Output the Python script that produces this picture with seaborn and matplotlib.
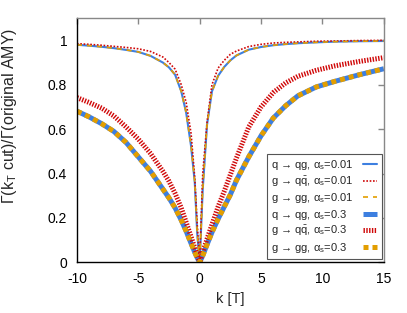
import matplotlib
matplotlib.use("Agg")
import matplotlib.pyplot as plt
import seaborn as sns
import pandas as pd

k = [-10, -9, -8, -7, -6, -5, -4, -3, -2.5, -2, -1.5, -1.1, -0.7, -0.4, -0.2, 0,
     0.25, 0.6, 1.0, 1.5, 2, 2.5, 3, 4, 5, 6, 7, 8, 9.5, 11, 13, 15]

# alpha_s = 0.01
qg_001 = [0.980, 0.976, 0.971, 0.965, 0.957, 0.948, 0.930, 0.900, 0.878, 0.845, 0.770,
          0.674, 0.523, 0.360, 0.130, 0.0,
          0.330, 0.620, 0.770, 0.840, 0.880, 0.910, 0.932, 0.958, 0.970, 0.978,
          0.983, 0.987, 0.991, 0.994, 0.996, 0.997]
qq_001 = [0.985, 0.982, 0.978, 0.973, 0.968, 0.962, 0.950, 0.925, 0.900, 0.870, 0.800,
          0.720, 0.580, 0.380, 0.170, 0.0,
          0.400, 0.630, 0.800, 0.875, 0.910, 0.937, 0.952, 0.972, 0.982, 0.988,
          0.991, 0.993, 0.996, 0.997, 0.999, 1.000]
gg_001 = [0.980, 0.976, 0.971, 0.965, 0.957, 0.948, 0.930, 0.900, 0.878, 0.845, 0.770,
          0.674, 0.523, 0.360, 0.130, 0.0,
          0.330, 0.620, 0.770, 0.840, 0.880, 0.910, 0.932, 0.958, 0.970, 0.978,
          0.983, 0.987, 0.991, 0.994, 0.996, 0.997]

# alpha_s = 0.3
qg_03 = [0.681, 0.655, 0.625, 0.590, 0.540, 0.475, 0.410, 0.330, 0.290, 0.245, 0.190,
         0.140, 0.085, 0.045, 0.020, 0.0,
         0.030, 0.080, 0.135, 0.195, 0.250, 0.305, 0.370, 0.475, 0.570, 0.650,
         0.705, 0.750, 0.790, 0.815, 0.845, 0.872]
qq_03 = [0.742, 0.720, 0.695, 0.660, 0.610, 0.555, 0.490, 0.410, 0.365, 0.310, 0.245,
         0.180, 0.115, 0.065, 0.030, 0.0,
         0.045, 0.105, 0.170, 0.250, 0.320, 0.395, 0.470, 0.610, 0.700, 0.765,
         0.808, 0.838, 0.865, 0.885, 0.905, 0.922]
gg_03 = [0.681, 0.655, 0.625, 0.590, 0.540, 0.475, 0.410, 0.330, 0.290, 0.245, 0.190,
         0.140, 0.085, 0.045, 0.020, 0.0,
         0.030, 0.080, 0.135, 0.195, 0.250, 0.305, 0.370, 0.475, 0.570, 0.650,
         0.705, 0.750, 0.790, 0.815, 0.845, 0.872]

labels = [r"q → qg, α$_\mathrm{s}$=0.01",
          r"g → q$\bar{\mathrm{q}}$, α$_\mathrm{s}$=0.01",
          r"g → gg, α$_\mathrm{s}$=0.01",
          r"q → qg, α$_\mathrm{s}$=0.3",
          r"g → q$\bar{\mathrm{q}}$, α$_\mathrm{s}$=0.3",
          r"g → gg, α$_\mathrm{s}$=0.3"]

blue = "#3d7fe0"
red = "#d00808"
orange = "#e39e00"

sns.set_style("white")
plt.rcParams['font.family'] = ['Liberation Sans', 'DejaVu Sans']
plt.rcParams['mathtext.fontset'] = 'custom'
plt.rcParams['mathtext.rm'] = 'Liberation Sans'
plt.rcParams['mathtext.it'] = 'Liberation Sans:italic'

df = pd.DataFrame({'k': k, 'qg_001': qg_001, 'qq_001': qq_001, 'gg_001': gg_001,
                   'qg_03': qg_03, 'qq_03': qq_03, 'gg_03': gg_03})

fig = plt.figure(figsize=(4.07, 3.13), dpi=100)
ax = fig.add_axes([0.189, 0.162, 0.754, 0.780])

sns.lineplot(data=df, x='k', y='qg_001', ax=ax, color=blue, lw=1.5, label=labels[0])
sns.lineplot(data=df, x='k', y='qq_001', ax=ax, color=red, lw=1.2,
             linestyle=(0, (1, 1)), dash_capstyle='butt', label=labels[1])
sns.lineplot(data=df, x='k', y='gg_001', ax=ax, color=orange, lw=1.2,
             linestyle=(0, (3, 3)), dash_capstyle='butt', label=labels[2])
sns.lineplot(data=df, x='k', y='qg_03', ax=ax, color=blue, lw=3.6,
             solid_capstyle='butt', label=labels[3])
sns.lineplot(data=df, x='k', y='qq_03', ax=ax, color=red, lw=3.6,
             linestyle=(0, (0.28, 0.28)), dash_capstyle='butt', label=labels[4])
sns.lineplot(data=df, x='k', y='gg_03', ax=ax, color=orange, lw=3.6,
             linestyle=(0, (1.0, 0.8)), dash_capstyle='butt', label=labels[5])

ax.set_xlim(-10, 15)
ax.set_ylim(0, 1.1)
ax.set_xticks([-10, -5, 0, 5, 10, 15])
ax.set_xticklabels(["-10", "-5", "0", "5", "10", "15"])
ax.set_yticks([0, 0.2, 0.4, 0.6, 0.8, 1.0])
ax.set_yticklabels(["0", "0.2", "0.4", "0.6", "0.8", "1"])
ax.tick_params(direction='in', length=4, width=1, colors='#888888',
               labelcolor='black', labelsize=10, pad=7,
               top=True, right=True)

for side in ['left', 'bottom']:
    ax.spines[side].set_color('black')
    ax.spines[side].set_linewidth(1.0)
for side in ['top', 'right']:
    ax.spines[side].set_color('#888888')
    ax.spines[side].set_linewidth(1.0)

ax.set_xlabel("k [T]", fontsize=10.5, labelpad=4)
ax.set_ylabel(r"Γ(k$_\mathrm{T}$ cut)/Γ(original AMY)", fontsize=11.5)
ax.yaxis.set_label_coords(-0.19, 0.60)

leg = ax.legend(loc='lower right', bbox_to_anchor=(0.993, 0.013), fontsize=8,
                markerfirst=False, fancybox=False, framealpha=1,
                edgecolor='#555555', handlelength=1.3, handletextpad=0.8,
                labelspacing=0.22, borderpad=0.4, borderaxespad=0)
leg.get_frame().set_linewidth(0.8)

# left-align the legend texts while keeping the samples in one column
fig.canvas.draw()
renderer = fig.canvas.get_renderer()
rows = [r for col in leg._legend_handle_box.get_children() for r in col.get_children()]
widths = [r.get_children()[0].get_bbox(renderer).width for r in rows]
wmax = max(widths)
for r, w in zip(rows, widths):
    r.sep = 0.8 * 8 + (wmax - w) * 72 / fig.dpi

fig.savefig('out.png', dpi=100)
